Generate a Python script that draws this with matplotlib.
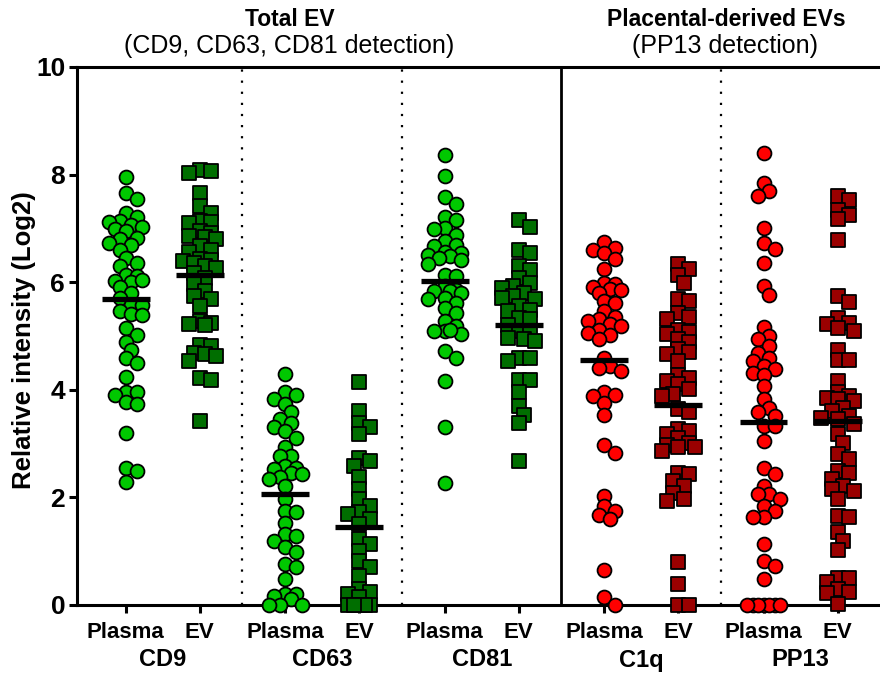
import numpy as np
import matplotlib
matplotlib.use("Agg")
import matplotlib.pyplot as plt
from matplotlib.transforms import blended_transform_factory

plt.rcParams['font.family'] = ['Liberation Sans', 'DejaVu Sans']

groups = ["CD9", "CD63", "CD81", "C1q", "PP13"]
sources = ["Plasma", "EV"]

cd9_plasma = [7.96, 7.66, 7.55, 7.29, 7.22, 7.13, 7.07, 7.11, 7.02, 6.99, 6.96, 6.82, 6.81,
              6.73, 6.70, 6.60, 6.45, 6.36, 6.30, 6.14, 6.11, 6.02, 6.00, 6.04, 5.91, 5.80,
              5.71, 5.58, 5.58, 5.46, 5.40, 5.39, 5.15, 5.01, 4.89, 4.74, 4.59, 4.49, 4.24,
              3.96, 3.96, 3.91, 3.78, 3.73, 3.19, 2.55, 2.49, 2.29]
cd9_ev = [8.09, 8.06, 8.03, 7.66, 7.41, 7.29, 7.13, 7.11, 7.10, 6.95, 6.92, 6.86, 6.84, 6.80,
          6.68, 6.60, 6.56, 6.43, 6.42, 6.39, 6.36, 6.30, 6.26, 6.17, 6.08, 5.96, 5.83, 5.74,
          5.68, 5.55, 5.28, 5.25, 5.23, 5.21, 4.84, 4.81, 4.69, 4.66, 4.63, 4.53, 4.22, 4.19,
          3.42]
cd63_plasma = [4.30, 3.95, 3.91, 3.82, 3.73, 3.58, 3.45, 3.39, 3.30, 3.23, 3.11, 2.93, 2.77,
               2.77, 2.58, 2.55, 2.52, 2.46, 2.43, 2.37, 2.34, 2.21, 1.97, 1.75, 1.72, 1.53,
               1.32, 1.29, 1.19, 1.07, 0.98, 0.76, 0.70, 0.48, 0.20, 0.20, 0.16, 0.12, 0.0,
               0.0, 0.0]
cd63_ev = [4.14, 3.61, 3.39, 3.30, 3.17, 2.74, 2.68, 2.59, 2.37, 2.15, 1.97, 1.84, 1.72, 1.69,
           1.60, 1.50, 1.22, 1.13, 1.01, 0.82, 0.70, 0.54, 0.30, 0.24, 0.20, 0.14, 0.0, 0.0,
           0.0, 0.0, 0.0]
cd81_plasma = [8.37, 7.98, 7.59, 7.45, 7.22, 7.16, 7.01, 6.99, 6.88, 6.76, 6.70, 6.67, 6.57,
               6.54, 6.51, 6.48, 6.45, 6.42, 6.33, 6.14, 6.11, 5.93, 5.86, 5.83, 5.83, 5.80,
               5.71, 5.68, 5.62, 5.52, 5.43, 5.28, 5.18, 5.09, 5.09, 5.03, 5.11, 4.72, 4.60,
               4.16, 3.30, 2.26]
cd81_ev = [7.16, 7.03, 6.60, 6.54, 6.30, 6.23, 6.08, 5.99, 5.93, 5.89, 5.80, 5.74, 5.68, 5.71,
           5.55, 5.49, 5.46, 5.34, 5.31, 5.21, 5.09, 5.06, 4.97, 4.94, 4.91, 4.60, 4.60, 4.53,
           4.19, 4.18, 3.95, 3.70, 3.54, 3.39, 2.68]
c1q_plasma = [6.74, 6.63, 6.60, 6.54, 6.43, 6.25, 5.99, 5.96, 5.91, 5.87, 5.86, 5.80, 5.65,
              5.62, 5.46, 5.36, 5.31, 5.28, 5.23, 5.18, 5.12, 5.06, 5.01, 4.94, 4.60, 4.44,
              4.41, 4.35, 3.96, 3.91, 3.88, 3.76, 3.53, 2.97, 2.83, 2.03, 1.84, 1.75, 1.67,
              1.60, 0.65, 0.14, 0.0]
c1q_ev = [6.33, 6.25, 6.14, 5.99, 5.69, 5.65, 5.43, 5.36, 5.32, 5.12, 5.07, 5.03, 4.94, 4.89,
          4.76, 4.70, 4.66, 4.53, 4.27, 4.22, 4.16, 4.10, 4.01, 3.93, 3.88, 3.64, 3.58, 3.27,
          3.23, 3.17, 3.11, 3.02, 2.97, 2.93, 2.93, 2.86, 2.46, 2.43, 2.31, 2.21, 2.09, 1.97,
          1.93, 0.80, 0.39, 0.0, 0.0]
pp13_plasma = [8.41, 7.84, 7.69, 7.61, 7.01, 6.73, 6.62, 6.36, 5.93, 5.77, 5.17, 5.00, 4.94,
               4.81, 4.69, 4.60, 4.53, 4.44, 4.38, 4.32, 4.27, 4.07, 3.83, 3.67, 3.58, 3.51,
               3.33, 3.32, 3.05, 2.55, 2.43, 2.21, 2.06, 2.06, 1.97, 1.84, 1.75, 1.63, 1.63,
               1.13, 0.82, 0.72, 0.48, 0.0, 0.0, 0.0, 0.0, 0.0, 0.0, 0.0]
pp13_ev = [7.61, 7.52, 7.35, 7.25, 7.17, 6.78, 5.75, 5.63, 5.34, 5.25, 5.23, 5.15, 5.09, 4.74,
           4.56, 4.56, 4.16, 3.95, 3.88, 3.85, 3.82, 3.79, 3.67, 3.61, 3.51, 3.48, 3.45, 3.36,
           3.17, 3.02, 2.80, 2.71, 2.49, 2.46, 2.34, 2.21, 2.15, 2.12, 1.97, 1.66, 1.63, 1.35,
           1.19, 1.03, 0.50, 0.51, 0.42, 0.30, 0.24, 0.22, 0.02]

center_lines = [5.68, 6.13, 2.06, 1.45, 6.02, 5.21, 4.55, 3.71, 3.41, 3.42]

series = [cd9_plasma, cd9_ev, cd63_plasma, cd63_ev, cd81_plasma, cd81_ev,
          c1q_plasma, c1q_ev, pp13_plasma, pp13_ev]
face_colors = ["#00C800", "#006E00"] * 3 + ["#FF0000", "#9A0000"] * 2
marker_shapes = ["o", "s"] * 5

W, H, DPI = 880, 674, 100
fig = plt.figure(figsize=(W / DPI, H / DPI), dpi=DPI)
ax_l, ax_r, ax_b, ax_t = 77, 880, 605, 67
ax = fig.add_axes([ax_l / W, 1 - ax_b / H, (ax_r - ax_l) / W, (ax_b - ax_t) / H])
x0, x1 = -0.07, 10.0
ax.set_xlim(x0, x1)
ax.set_ylim(0, 10)
px_x = (ax_r - ax_l) / (x1 - x0)
px_y = (ax_b - ax_t) / 10.0

positions = []
for g in range(5):
    positions += [2 * g + 0.54, 2 * g + 1.47]


def swarm_offsets(vals, dmin=9.5, step=5.5, maxoff=20.0):
    placed = []
    offs = []
    cands = [0.0]
    k = 1
    while k * step <= maxoff + 1e-9:
        cands += [k * step, -k * step]
        k += 1
    for v in vals:
        yp = v * px_y
        best, bestd = 0.0, -1
        for c in cands:
            if placed:
                d = min(np.hypot(c - px, yp - py) for px, py in placed)
            else:
                d = 1e9
            if d >= dmin:
                best = c
                break
            if d > bestd:
                bestd, best = d, c
        placed.append((best, yp))
        offs.append(best)
    return np.array(offs) / px_x


for i, vals in enumerate(series):
    vals = np.array(vals)
    offs = swarm_offsets(vals)
    ax.scatter(positions[i] + offs, vals, s=100,
               marker=marker_shapes[i], facecolor=face_colors[i], edgecolor="black",
               linewidth=1.3, zorder=3, clip_on=False)
    ax.hlines(center_lines[i], positions[i] - 0.3, positions[i] + 0.3, color="black",
              linewidth=3.8, zorder=5)

for xv in [2, 4, 8]:
    ax.axvline(xv, color="black", linestyle=(0, (1, 4)), linewidth=1.6, zorder=1)
ax.axvline(6, color="black", linewidth=2.0, zorder=1)

for side in ["left", "bottom", "top"]:
    ax.spines[side].set_linewidth(2.2)
ax.spines["right"].set_visible(False)

ax.set_yticks([0, 2, 4, 6, 8, 10])
ax.set_yticklabels(["0", "2", "4", "6", "8", "10"], fontsize=19, fontweight="bold")
ax.set_xticks(positions)
ax.set_xticklabels(sources * 5, fontsize=16, fontweight="bold")
ax.tick_params(axis="both", width=2.2, length=6, direction="out")
ax.tick_params(axis="x", pad=6)
ax.tick_params(axis="y", pad=2.5)

trans = blended_transform_factory(ax.transData, fig.transFigure)
for g, name in enumerate(groups):
    xc = (positions[2 * g] + positions[2 * g + 1]) / 2
    ax.text(xc, 1 - 660 / H, name, transform=trans, ha="center", va="center",
            fontsize=17, fontweight="bold")

fig.text(24 / W, 1 - 340 / H, "Relative intensity (Log2)", rotation=90, ha="center",
         va="center", fontsize=18.5, fontweight="bold")

fig.text(290 / W, 1 - 19 / H, "Total EV", ha="center", va="center", fontsize=16.5,
         fontweight="bold")
fig.text(289 / W, 1 - 46 / H, "(CD9, CD63, CD81 detection)", ha="center", va="center",
         fontsize=18)
fig.text(726 / W, 1 - 19 / H, "Placental-derived EVs", ha="center", va="center",
         fontsize=16.5, fontweight="bold")
fig.text(725 / W, 1 - 46 / H, "(PP13 detection)", ha="center", va="center", fontsize=18)

fig.savefig("out.png", dpi=DPI)
